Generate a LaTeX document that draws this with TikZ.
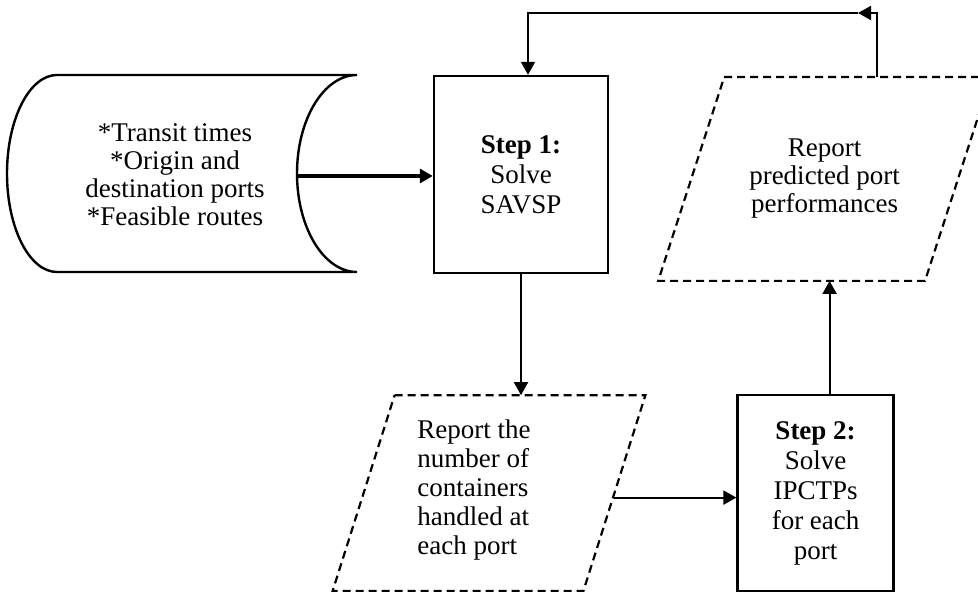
\documentclass[tikz,border=0pt]{standalone}
\usepackage{fontspec}
\setmainfont{Liberation Serif}
\usetikzlibrary{positioning,arrows.meta,calc}

\begin{document}
\begin{tikzpicture}[x=0.5pt, y=-0.5pt,
    >={Triangle[length=6.5pt,width=7pt]},
    txt/.style={align=center, font=\fontsize{13.5}{14}\selectfont},
    stepbox/.style={draw, line width=1.2pt, align=center, font=\fontsize{13.5}{15}\selectfont},
    iobox/.style={inner sep=0pt},
    iodash/.style={line width=1.1pt, dash pattern=on 4pt off 2.5pt},
    flow/.style={->, line width=1pt}]
    \useasboundingbox (0,0) rectangle (978,592);
    \clip (0,0) rectangle (978,592);

    \node [stepbox, minimum width=87pt, minimum height=98.5pt] (step1) at (521,174.5) {\textbf{Step 1:}\\Solve\\SAVSP};
    \node [iobox, below=60.5pt of step1, xshift=-16pt, minimum width=125pt, minimum height=97.5pt] (counts) {};
    \node [txt, align=left, anchor=west, inner sep=0pt, font=\fontsize{13.5}{14.5}\selectfont] (countstext) at (417,490)
        {Report the\\number of\\containers\\handled at\\each port};
    \node [stepbox, right=61pt of counts, minimum width=78pt, minimum height=98pt] (step2) {\textbf{Step 2:}\\Solve\\IPCTPs\\for each\\port};
    \node [iobox, txt, above=56.5pt of step2, xshift=4.5pt, minimum width=133pt, minimum height=101.5pt] (perf)
        {Report\\predicted port\\performances};

    % slanted report boxes
    \draw [iodash] ([xshift=15.5pt]counts.north west) -- ([xshift=15.5pt]counts.north east)
        -- ([xshift=-15.5pt]counts.south east) -- ([xshift=-15.5pt]counts.south west) -- cycle;
    \draw [iodash] ([xshift=16.5pt]perf.north west) -- ([xshift=16.5pt]perf.north east)
        -- ([xshift=-16.5pt]perf.south east) -- ([xshift=-16.5pt]perf.south west) -- cycle;

    % stored data
    \node [txt] (data) at (175,175) {*Transit times\\*Origin and\\destination ports\\*Feasible routes};
    \draw [line width=1.2pt] (357,75) -- (57,75)
        .. controls (29.4,75) and (7,119.1) .. (7,173.5)
        .. controls (7,227.9) and (29.4,272) .. (57,272) -- (357,272)
        .. controls (323.9,272) and (297,227.9) .. (297,173.5)
        .. controls (297,119.1) and (323.9,75) .. cycle;
    \coordinate (dataout) at (297,176);
    \coordinate (turn) at (858,13);

    \draw[flow, line width=1.6pt] (dataout) -- (dataout -| step1.west);
    \draw[flow] (step1.south) -- (step1.south |- counts.north);
    \draw[flow] ([yshift=-2.25pt]counts.east) -- ([yshift=-2.25pt]counts.east -| step2.west);
    \draw[flow] ([xshift=7pt]step2.north) -- ([xshift=7pt]step2.north |- perf.south);
    \draw[flow] ([xshift=26pt]perf.north) |- (turn);
    \draw[flow] (turn) -| ([xshift=3.5pt]step1.north);

\end{tikzpicture}
\end{document}
